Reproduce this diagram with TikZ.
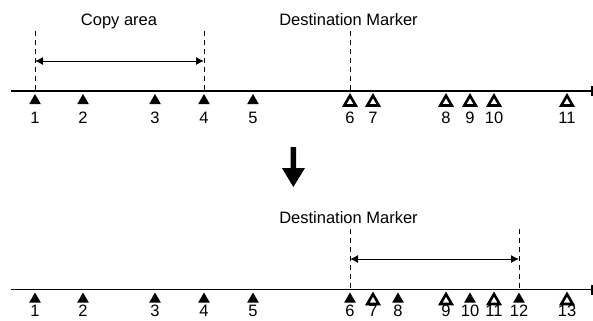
\documentclass[tikz,border=0pt]{standalone}
\usepackage{fontspec}
\setmainfont{Liberation Sans}
\usetikzlibrary{shapes.geometric,arrows.meta}
\begin{document}
\begin{tikzpicture}[x=1bp,y=-1bp,
  txt/.style={font=\fontsize{16.5bp}{19bp}\selectfont, inner sep=0pt},
  full/.style={regular polygon, regular polygon sides=3, fill=black, draw=none,
    minimum size=13.6bp, inner sep=0pt, outer sep=0pt, anchor=corner 1},
  hollow/.style={regular polygon, regular polygon sides=3, draw=black, line width=2.6bp,
    line join=miter, fill=white, minimum size=13.2bp, inner sep=0pt, outer sep=0pt, anchor=corner 1},
  guide/.style={dash pattern=on 5bp off 4bp, line width=1bp},
  axis/.style={line width=1.4bp},
  span/.style={{Latex[length=8bp,width=8bp]}-{Latex[length=8bp,width=8bp]}, line width=1bp},
  bigarrow/.style={fill=black, draw=none}]
\useasboundingbox (0,0) rectangle (593,320);

% ---------- top row ----------
\coordinate (tL) at (11,91);
\coordinate (tR) at (592,91);
\draw[axis] (tL) -- (tR);
\coordinate (tRa) at (592,86);
\coordinate (tRb) at (592,96);
\draw[line width=1.4bp] (tRa) -- (tRb);

\foreach \n/\x in {1/35,2/83,3/155,4/204,5/253} {
  \node[full] (t\n) at (\x,94) {};
  \node[txt] (tl\n) at (\x,117.5) {\n};
}
\foreach \n/\x in {6/350,7/373,8/446,9/470,10/494,11/567} {
  \node[hollow] (t\n) at (\x,95.6) {};
  \node[txt] (tl\n) at (\x,117.5) {\n};
}

\coordinate (d1) at (35,31);
\coordinate (d1b) at (35,91);
\coordinate (d4) at (204,31);
\coordinate (d4b) at (204,91);
\coordinate (d6) at (350,31);
\coordinate (d6b) at (350,91);
\draw[guide] (d1) -- (d1b);
\draw[guide] (d4) -- (d4b);
\draw[guide] (d6) -- (d6b);

\coordinate (s1) at (35,61);
\coordinate (s4) at (204,61);
\draw[span] (s1) -- (s4);

\node[txt, anchor=base] (copy) at (119,25) {Copy area};
\node[txt, anchor=base] (dest1) at (348.5,25) {Destination Marker};

% ---------- big arrow ----------
\fill[bigarrow] (290.5,147) -- (296,147) -- (296,168) -- (305,168) -- (293.3,187)
  -- (282,168) -- (290.5,168) -- cycle;

% ---------- bottom row ----------
\coordinate (bL) at (11,289.5);
\coordinate (bR) at (592,289.5);
\draw[axis] (bL) -- (bR);
\coordinate (bRa) at (592,284.5);
\coordinate (bRb) at (592,294.5);
\draw[line width=1.4bp] (bRa) -- (bRb);

\foreach \n/\x in {1/35,2/83,3/155,4/204,5/253,6/350,8/398,10/470,12/519} {
  \node[full] (b\n) at (\x,292.5) {};
  \node[txt] (bl\n) at (\x,310.5) {\n};
}
\foreach \n/\x in {7/373,9/446,11/494,13/567} {
  \node[hollow] (b\n) at (\x,294.1) {};
  \node[txt] (bl\n) at (\x,310.5) {\n};
}

\coordinate (e6) at (350,229);
\coordinate (e6b) at (350,289.5);
\coordinate (e12) at (519,229);
\coordinate (e12b) at (519,289.5);
\draw[guide] (e6) -- (e6b);
\draw[guide] (e12) -- (e12b);

\coordinate (r6) at (350,259);
\coordinate (r12) at (519,259);
\draw[span] (r6) -- (r12);

\node[txt, anchor=base] (dest2) at (348.5,223) {Destination Marker};
\end{tikzpicture}
\end{document}
